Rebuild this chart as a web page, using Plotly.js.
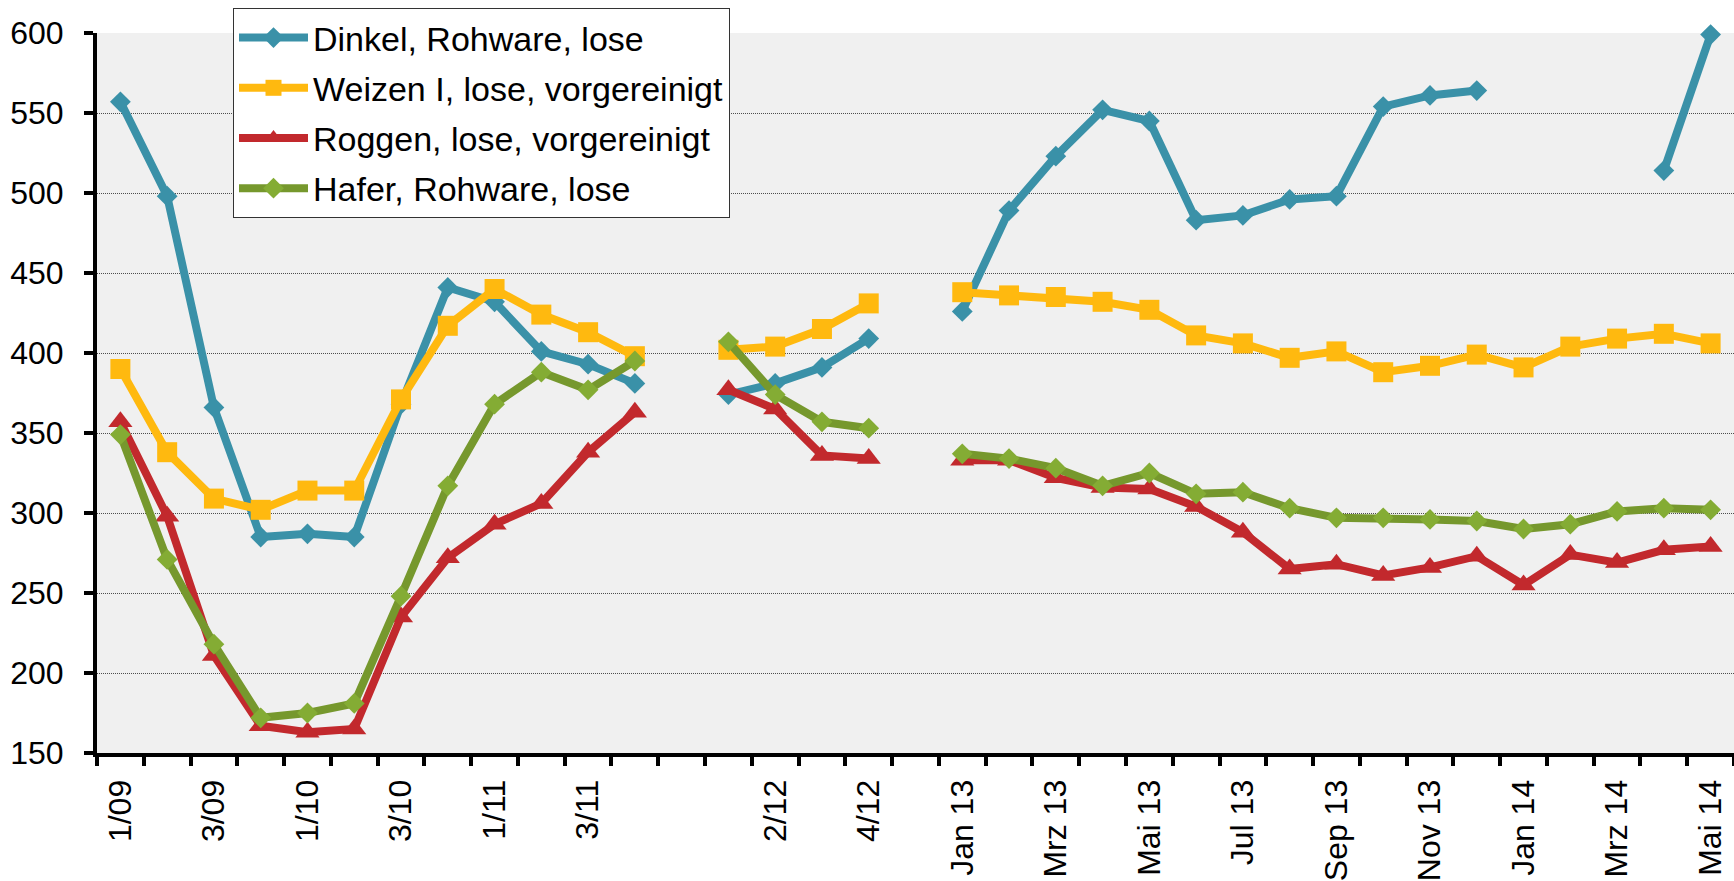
<!DOCTYPE html>
<html>
<head>
<meta charset="utf-8">
<script src="https://cdn.plot.ly/plotly-3.0.1.min.js"></script>
<style>
html, body { margin: 0; padding: 0; background: #ffffff; }
#chart { width: 1734px; height: 881px; }
</style>
</head>
<body>
<div id="chart"></div>
<script>
// Categories (quarters 2009-2012, gaps, then months 2013-2014)
const categories = ['1/09','2/09','3/09','4/09','1/10','2/10','3/10','4/10','1/11','2/11','3/11','4/11',
  '', '1/12','2/12','3/12','4/12', ' ',
  'Jan 13','Feb 13','Mrz 13','Apr 13','Mai 13','Jun 13','Jul 13','Aug 13','Sep 13','Okt 13','Nov 13','Dez 13',
  'Jan 14','Feb 14','Mrz 14','Apr 14','Mai 14'];

const tickLabels = ['1/09','3/09','1/10','3/10','1/11','3/11','2/12','4/12',
  'Jan 13','Mrz 13','Mai 13','Jul 13','Sep 13','Nov 13','Jan 14','Mrz 14','Mai 14'];

const seriesNames = ['Dinkel, Rohware, lose','Weizen I, lose, vorgereinigt','Roggen, lose, vorgereinigt','Hafer, Rohware, lose'];

const dinkel = [557, 498, 366, 285, 287, 285, 368, 441, 432, 401, 393, 381,
  null, 374, 381, 391, 409, null,
  426, 489, 523, 552, 545, 483, 486, 496, 498, 554, 561, 564,
  null, null, null, 514, 599];

const weizen = [390, 338, 309, 302, 314, 314, 371, 417, 440, 424, 413, 398,
  null, 402, 404, 415, 431, null,
  438, 436, 435, 432, 427, 411, 406, 397, 401, 388, 392, 399,
  391, 404, 409, 412, 406];

const roggen = [357, 298, 211, 167, 163, 165, 235, 272, 293, 306, 338, 363,
  null, 377, 365, 336, 334, null,
  333, 333, 322, 316, 315, 304, 288, 265, 268, 261, 266, 273,
  255, 274, 269, 277, 279];

const hafer = [349, 271, 218, 172, 175, 181, 248, 317, 368, 388, 377, 395,
  null, 407, 374, 357, 353, null,
  337, 334, 328, 317, 325, 312, 313, 303, 297, 297, 296, 295,
  290, 293, 301, 303, 302];

const xIdx = categories.map((_, i) => i);
const tickVals = tickLabels.map(l => categories.indexOf(l));

const FONT = 'Arial, "Liberation Sans", sans-serif';
const FS_TICK = 32, FS_LEG = 34;

function trace(name, y, lineColor, markerColor, symbol, size, group) {
  return {
    type: 'scatter', mode: 'lines+markers', name: name,
    x: xIdx, y: y, connectgaps: false, cliponaxis: false,
    legendgroup: group,
    line: { color: lineColor, width: 8 },
    marker: { color: markerColor, symbol: symbol, size: size, line: { width: 0 } }
  };
}

const data = [
  trace(seriesNames[0], dinkel, '#3A91A8', '#3A91A8', 'diamond', 16, 'a'),
  trace(seriesNames[1], weizen, '#FFB90F', '#FFB90F', 'square', 20, 'b'),
  trace(seriesNames[2], roggen, '#C2292D', '#C2292D', 'triangle-up', 21, 'c'),
  trace(seriesNames[3], hafer, '#76982D', '#84AC34', 'diamond', 16, 'd')
];

const L = 97, T = 33, B = 881 - 753, R = 0;
const plotW = 1734 - L - R, plotH = 881 - T - B;

const layout = {
  width: 1734, height: 881,
  margin: { l: L, r: R, t: T, b: B, pad: 0 },
  paper_bgcolor: '#ffffff',
  plot_bgcolor: '#F0F0F0',
  font: { family: FONT, size: FS_TICK, color: '#000000' },
  showlegend: true,
  legend: {
    x: (233 - L) / plotW, xanchor: 'left',
    y: (753 - 8) / plotH, yanchor: 'top',
    bgcolor: '#ffffff', bordercolor: '#333333', borderwidth: 1,
    font: { family: FONT, size: FS_LEG, color: '#000000' },
    itemwidth: 69, traceorder: 'grouped', tracegroupgap: 3,
    itemclick: false
  },
  xaxis: {
    type: 'linear', range: [-0.5, categories.length - 0.5],
    tickmode: 'array', tickvals: tickVals, ticktext: tickLabels,
    tickangle: -90, ticks: 'outside', ticklen: 10, tickcolor: 'rgba(0,0,0,0)',
    tickfont: { family: FONT, size: FS_TICK, color: '#000000' },
    showline: true, linecolor: '#000000', linewidth: 4,
    showgrid: false, zeroline: false, fixedrange: true,
    minor: { ticks: 'outside', ticklen: 9, tickwidth: 4, tickcolor: '#000000',
             tickmode: 'linear', tick0: -0.5, dtick: 1, showgrid: false }
  },
  yaxis: {
    range: [150, 600], tickmode: 'linear', tick0: 150, dtick: 50,
    ticks: 'outside', ticklen: 9, tickwidth: 4, tickcolor: '#000000',
    ticklabelstandoff: 14,
    tickfont: { family: FONT, size: FS_TICK, color: '#000000' },
    showline: true, linecolor: '#000000', linewidth: 4,
    showgrid: true, gridcolor: '#4d4d4d', gridwidth: 1, griddash: '1px,1px',
    zeroline: false, fixedrange: true
  }
};

Plotly.newPlot('chart', data, layout, { staticPlot: true, displayModeBar: false });
</script>
</body>
</html>
